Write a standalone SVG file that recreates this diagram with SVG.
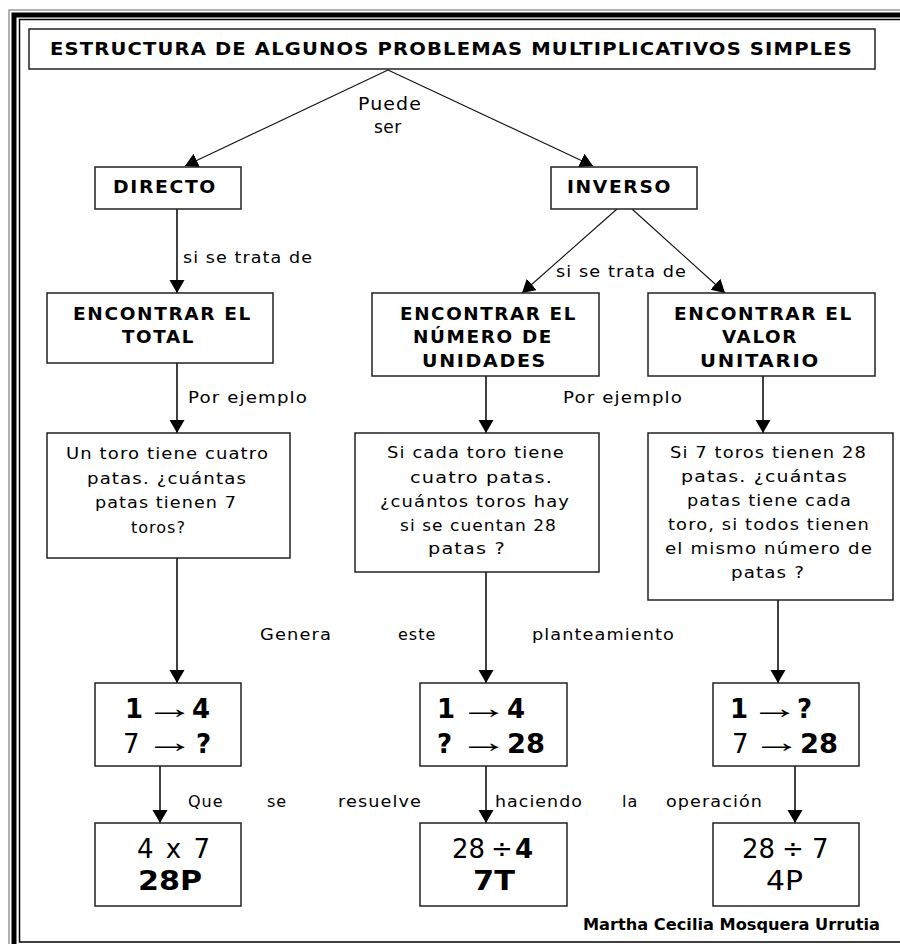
<svg xmlns="http://www.w3.org/2000/svg" width="900" height="944" viewBox="0 0 900 944">
<style>
.box{fill:#fff;stroke:#222;stroke-width:1.5}
.ln{stroke:#111;stroke-width:1.6;fill:none}
.dg{stroke:#111;stroke-width:1.1;fill:none}
text{font-family:"DejaVu Sans",Verdana,sans-serif;fill:#000}
.h{font-size:17px;font-weight:bold;letter-spacing:1.5px}
.t{font-size:16px;letter-spacing:1px}
.l{font-size:16px;letter-spacing:1px}
.n{font-size:26px}
.bd{font-weight:bold}
.ar{font-size:30px;font-family:"Liberation Sans",Arial,sans-serif}
.sig{font-size:15px;font-weight:bold}
</style>
<defs>
<marker id="ah" markerUnits="userSpaceOnUse" markerWidth="14" markerHeight="16" refX="13" refY="7.5" orient="auto" viewBox="0 0 14 16">
<path d="M0,0 L13,7.5 L0,15 z" fill="#000"/>
</marker>
</defs>
<rect x="0" y="0" width="900" height="944" fill="#fff"/>
<g id="frame" fill="none">
<rect x="9" y="10" width="1000" height="1000" stroke="#999" stroke-width="1.5"/>
<rect x="14" y="15" width="1000" height="1000" stroke="#000" stroke-width="5"/>
<rect x="19.5" y="19.5" width="1000" height="922.5" stroke="#000" stroke-width="1.5"/>
</g>
<g id="connectors">
<line class="dg" x1="388" y1="70" x2="185" y2="166" marker-end="url(#ah)"/>
<line class="dg" x1="388" y1="70" x2="593" y2="166" marker-end="url(#ah)"/>
<line class="ln" x1="177" y1="209" x2="177" y2="293" marker-end="url(#ah)"/>
<line class="dg" x1="617" y1="209" x2="522" y2="293" marker-end="url(#ah)"/>
<line class="dg" x1="632" y1="209" x2="725" y2="293" marker-end="url(#ah)"/>
<line class="ln" x1="177" y1="363" x2="177" y2="433" marker-end="url(#ah)"/>
<line class="ln" x1="486" y1="376" x2="486" y2="433" marker-end="url(#ah)"/>
<line class="ln" x1="763" y1="376" x2="763" y2="433" marker-end="url(#ah)"/>
<line class="ln" x1="177" y1="558" x2="177" y2="683" marker-end="url(#ah)"/>
<line class="ln" x1="486" y1="572" x2="486" y2="683" marker-end="url(#ah)"/>
<line class="ln" x1="778" y1="600" x2="778" y2="683" marker-end="url(#ah)"/>
<line class="ln" x1="160" y1="766" x2="160" y2="823" marker-end="url(#ah)"/>
<line class="ln" x1="486" y1="766" x2="486" y2="823" marker-end="url(#ah)"/>
<line class="ln" x1="795" y1="766" x2="795" y2="823" marker-end="url(#ah)"/>
</g>
<g id="labels">
<text class="l" x="358" y="110" textLength="64" lengthAdjust="spacingAndGlyphs" style="font-size:17px">Puede</text>
<text class="l" x="374" y="133" style="font-size:17px;letter-spacing:0.5px">ser</text>
<text class="l" x="183" y="263" textLength="130" lengthAdjust="spacingAndGlyphs">si se trata de</text>
<text class="l" x="556" y="277" textLength="131" lengthAdjust="spacingAndGlyphs">si se trata de</text>
<text class="l" x="188" y="403" textLength="120" lengthAdjust="spacingAndGlyphs">Por ejemplo</text>
<text class="l" x="563" y="403" textLength="120" lengthAdjust="spacingAndGlyphs">Por ejemplo</text>
<text class="l" x="260" y="640" textLength="72" lengthAdjust="spacingAndGlyphs">Genera</text>
<text class="l" x="398" y="640">este</text>
<text class="l" x="532" y="640" textLength="143" lengthAdjust="spacingAndGlyphs">planteamiento</text>
<text class="l" x="188" y="807">Que</text>
<text class="l" x="267" y="807">se</text>
<text class="l" x="338" y="807" textLength="84" lengthAdjust="spacingAndGlyphs">resuelve</text>
<text class="l" x="495" y="807" textLength="88" lengthAdjust="spacingAndGlyphs">haciendo</text>
<text class="l" x="622" y="807">la</text>
<text class="l" x="666" y="807" textLength="97" lengthAdjust="spacingAndGlyphs">operación</text>
</g>
<g id="title">
<rect class="box" x="29" y="29" width="846" height="40"/>
<text class="h" x="50" y="55" textLength="803" lengthAdjust="spacingAndGlyphs" style="letter-spacing:1px">ESTRUCTURA DE ALGUNOS  PROBLEMAS MULTIPLICATIVOS SIMPLES</text>
</g>
<g id="directo">
<rect class="box" x="95" y="167" width="146" height="42"/>
<text class="h" x="113" y="193" textLength="104" lengthAdjust="spacingAndGlyphs">DIRECTO</text>
</g>
<g id="inverso">
<rect class="box" x="551" y="167" width="146" height="42"/>
<text class="h" x="567" y="193" textLength="105" lengthAdjust="spacingAndGlyphs">INVERSO</text>
</g>
<g id="total">
<rect class="box" x="47" y="293" width="226" height="70"/>
<text class="h" x="73" y="320" textLength="179" lengthAdjust="spacingAndGlyphs">ENCONTRAR EL</text>
<text class="h" x="122" y="343" textLength="73" lengthAdjust="spacingAndGlyphs">TOTAL</text>
</g>
<g id="numero">
<rect class="box" x="372" y="293" width="227" height="83"/>
<text class="h" x="400" y="320" textLength="177" lengthAdjust="spacingAndGlyphs">ENCONTRAR EL</text>
<text class="h" x="413" y="343" textLength="140" lengthAdjust="spacingAndGlyphs">NÚMERO DE</text>
<text class="h" x="422" y="367" textLength="125" lengthAdjust="spacingAndGlyphs">UNIDADES</text>
</g>
<g id="valor">
<rect class="box" x="648" y="293" width="227" height="83"/>
<text class="h" x="674" y="320" textLength="179" lengthAdjust="spacingAndGlyphs">ENCONTRAR EL</text>
<text class="h" x="722" y="343" textLength="76" lengthAdjust="spacingAndGlyphs">VALOR</text>
<text class="h" x="700" y="367" textLength="120" lengthAdjust="spacingAndGlyphs">UNITARIO</text>
</g>
<g id="ejemplo1">
<rect class="box" x="47" y="433" width="243" height="125"/>
<text class="t" x="66" y="459" textLength="203" lengthAdjust="spacingAndGlyphs">Un toro tiene cuatro</text>
<text class="t" x="87" y="484" textLength="160" lengthAdjust="spacingAndGlyphs">patas. ¿cuántas</text>
<text class="t" x="95" y="508" textLength="142" lengthAdjust="spacingAndGlyphs">patas tienen 7</text>
<text class="t" x="131" y="533">toros?</text>
</g>
<g id="ejemplo2">
<rect class="box" x="355" y="433" width="244" height="139"/>
<text class="t" x="387" y="458" textLength="178" lengthAdjust="spacingAndGlyphs">Si cada toro tiene</text>
<text class="t" x="410" y="483" textLength="143" lengthAdjust="spacingAndGlyphs">cuatro patas.</text>
<text class="t" x="380" y="507" textLength="190" lengthAdjust="spacingAndGlyphs">¿cuántos toros hay</text>
<text class="t" x="400" y="531" textLength="157" lengthAdjust="spacingAndGlyphs">si se cuentan 28</text>
<text class="t" x="428" y="554" textLength="78" lengthAdjust="spacingAndGlyphs">patas ?</text>
</g>
<g id="ejemplo3">
<rect class="box" x="648" y="433" width="245" height="167"/>
<text class="t" x="670" y="458" textLength="197" lengthAdjust="spacingAndGlyphs">Si 7 toros tienen 28</text>
<text class="t" x="681" y="482" textLength="167" lengthAdjust="spacingAndGlyphs">patas. ¿cuántas</text>
<text class="t" x="687" y="506" textLength="165" lengthAdjust="spacingAndGlyphs">patas tiene cada</text>
<text class="t" x="668" y="530" textLength="202" lengthAdjust="spacingAndGlyphs">toro, si todos tienen</text>
<text class="t" x="665" y="554" textLength="208" lengthAdjust="spacingAndGlyphs">el mismo número de</text>
<text class="t" x="731" y="578" textLength="74" lengthAdjust="spacingAndGlyphs">patas ?</text>
</g>
<g id="plan1">
<rect class="box" x="95" y="683" width="146" height="83"/>
<text class="n bd" x="125" y="718">1</text>
<text class="ar" transform="translate(145,718) scale(1.65,1)">→</text>
<text class="n bd" x="192" y="718">4</text>
<text class="n" x="123" y="753">7</text>
<text class="ar" transform="translate(145,752) scale(1.65,1)">→</text>
<text class="n bd" x="196" y="753">?</text>
</g>
<g id="plan2">
<rect class="box" x="420" y="683" width="147" height="83"/>
<text class="n bd" x="437" y="718">1</text>
<text class="ar" transform="translate(459,718) scale(1.65,1)">→</text>
<text class="n bd" x="507" y="718">4</text>
<text class="n bd" x="437" y="753">?</text>
<text class="ar" transform="translate(459,752) scale(1.65,1)">→</text>
<text class="n bd" x="507" y="753" textLength="38" lengthAdjust="spacingAndGlyphs">28</text>
</g>
<g id="plan3">
<rect class="box" x="713" y="683" width="146" height="83"/>
<text class="n bd" x="730" y="718">1</text>
<text class="ar" transform="translate(750,718) scale(1.65,1)">→</text>
<text class="n bd" x="797" y="718">?</text>
<text class="n" x="732" y="753">7</text>
<text class="ar" transform="translate(752,752) scale(1.65,1)">→</text>
<text class="n bd" x="800" y="753" textLength="38" lengthAdjust="spacingAndGlyphs">28</text>
</g>
<g id="resultado1">
<rect class="box" x="95" y="823" width="146" height="83"/>
<text class="n" x="137" y="858" textLength="73" lengthAdjust="spacing">4 x 7</text>
<text class="n bd" x="138" y="890" textLength="64" lengthAdjust="spacingAndGlyphs">28P</text>
</g>
<g id="resultado2">
<rect class="box" x="420" y="823" width="147" height="83"/>
<text class="n" x="452" y="858" textLength="33" lengthAdjust="spacingAndGlyphs">28</text>
<text class="n" x="491" y="858">÷</text>
<text class="n bd" x="515" y="858">4</text>
<text class="n bd" x="473" y="890" textLength="42" lengthAdjust="spacingAndGlyphs">7T</text>
</g>
<g id="resultado3">
<rect class="box" x="713" y="823" width="146" height="83"/>
<text class="n" x="742" y="858" textLength="33" lengthAdjust="spacingAndGlyphs">28</text>
<text class="n" x="782" y="858">÷</text>
<text class="n" x="812" y="858">7</text>
<text class="n" x="766" y="890" textLength="37" lengthAdjust="spacingAndGlyphs">4P</text>
</g>
<g id="autor">
<text class="sig" x="583" y="930" textLength="297" lengthAdjust="spacingAndGlyphs">Martha Cecilia Mosquera Urrutia</text>
</g>
</svg>
